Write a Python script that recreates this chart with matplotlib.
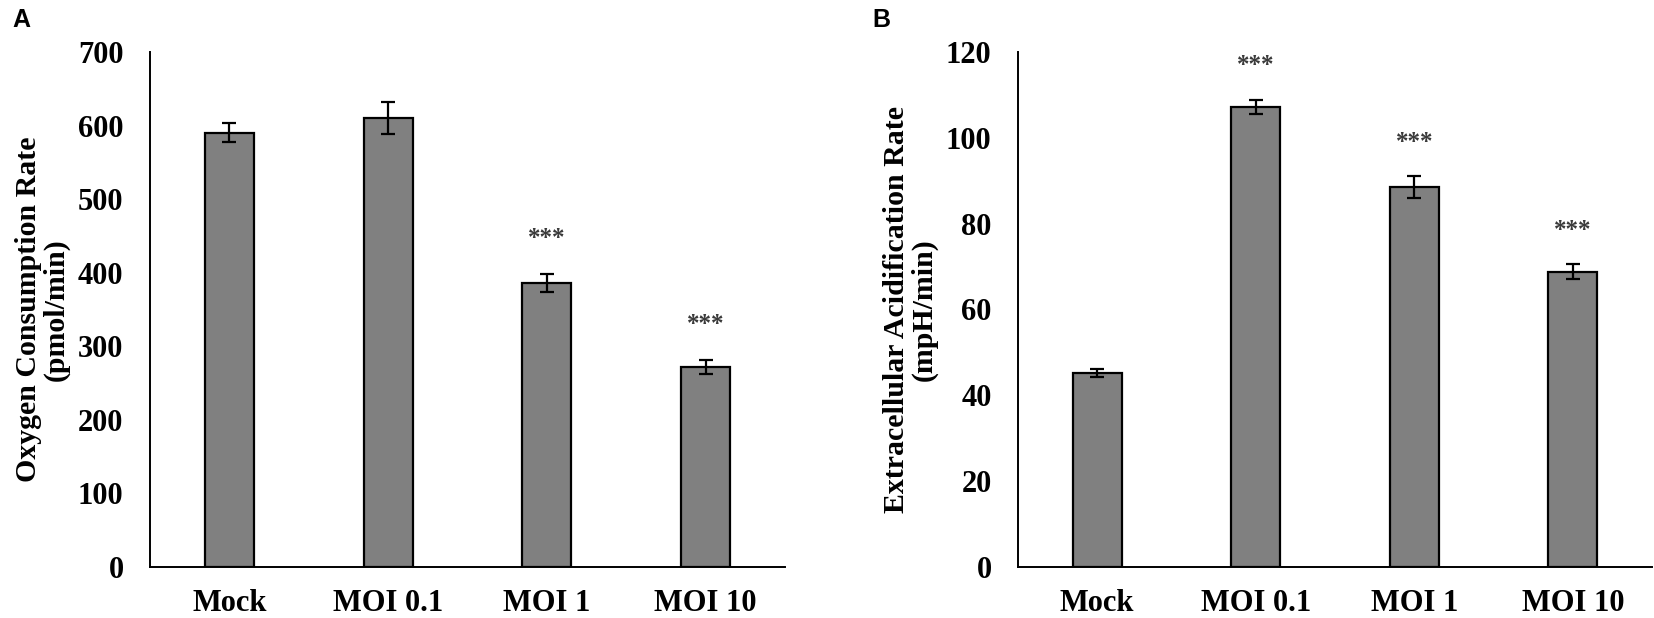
import numpy as np
import matplotlib
matplotlib.use('Agg')
import matplotlib.pyplot as plt

# values
groups = ['Mock', 'MOI 0.1', 'MOI 1', 'MOI 10']

ocr_mean = [590, 610, 386, 272]
ocr_err = [13, 22, 12, 10]
ocr_star_y = [None, None, 455, 338]

ecar_mean = [45.2, 107.2, 88.6, 68.8]
ecar_err = [1.0, 1.7, 2.6, 1.8]
ecar_star_y = [None, 118.2, 100.2, 79.7]

plt.rcParams['font.family'] = ['Liberation Serif', 'DejaVu Serif']
plt.rcParams['font.weight'] = 'bold'
plt.rcParams['axes.labelweight'] = 'bold'


def panel(ax, means, errs, stars, ymax, step, ylabel):
    x = np.arange(len(groups))
    ax.bar(x, means, width=0.31, color='#808080', edgecolor='black', linewidth=1.6,
           yerr=errs, capsize=5, error_kw=dict(elinewidth=1.6, capthick=1.6, ecolor='black'),
           zorder=2)
    for xi, sy in zip(x, stars):
        if sy is None:
            continue
        ax.annotate('***', (xi, sy), xytext=(0, -9), textcoords='offset points',
                    ha='center', va='baseline', fontsize=18, color='#3a3a3a')
    ax.set_xlim(-0.5, len(groups) - 0.5)
    ax.set_ylim(0, ymax)
    ax.set_yticks(np.arange(0, ymax + step, step))
    ax.set_xticks(x)
    ax.set_xticklabels(groups)
    for s in ['top', 'right']:
        ax.spines[s].set_visible(False)
    for s in ['left', 'bottom']:
        ax.spines[s].set_linewidth(1.4)
    ax.tick_params(axis='y', length=0, pad=19, labelsize=22)
    ax.tick_params(axis='x', length=0, pad=16, labelsize=22)
    ax.set_ylabel(ylabel, fontsize=21.5, fontweight='bold', labelpad=6, linespacing=1.0)


fig = plt.figure(figsize=(16.54, 6.18), dpi=100)
axA = fig.add_axes([150 / 1654, 1 - 567 / 618, 635 / 1654, 515 / 618])
axB = fig.add_axes([1018 / 1654, 1 - 567 / 618, 634 / 1654, 515 / 618])

panel(axA, ocr_mean, ocr_err, ocr_star_y, 700, 100, 'Oxygen Consumption Rate\n(pmol/min)')
panel(axB, ecar_mean, ecar_err, ecar_star_y, 120, 20, 'Extracellular Acidification Rate\n(mpH/min)')

fig.text(12 / 1654, 1 - 8 / 618, 'A', family=['Liberation Sans', 'DejaVu Sans'],
         fontsize=18, fontweight='bold', va='top', ha='left')
fig.text(872 / 1654, 1 - 8 / 618, 'B', family=['Liberation Sans', 'DejaVu Sans'],
         fontsize=18, fontweight='bold', va='top', ha='left')

fig.savefig('out.png', dpi=100)
